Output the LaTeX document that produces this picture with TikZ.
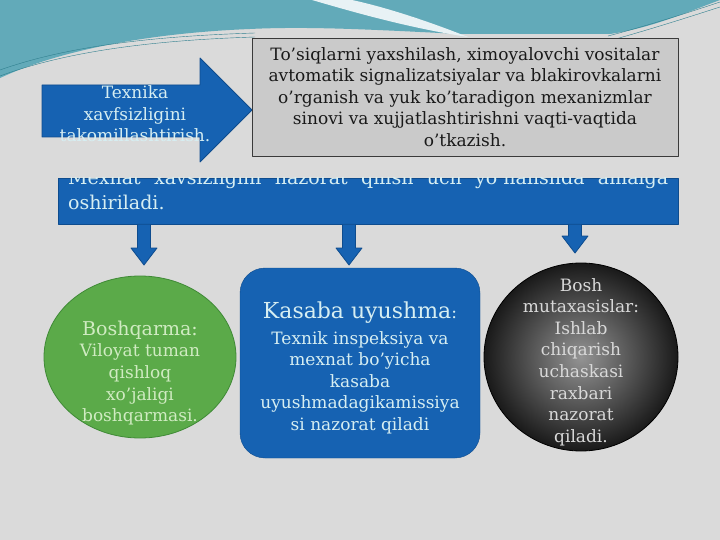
\documentclass[tikz,border=0pt]{standalone}
\usepackage{fontspec}
\setmainfont{DejaVu Serif}
\usetikzlibrary{positioning,calc,shapes.geometric}

\definecolor{bggray}{HTML}{DADADA}
\definecolor{topteal}{HTML}{62AAB9}
\definecolor{tealline}{HTML}{2F7F8E}
\definecolor{slideblue}{HTML}{1662B2}
\definecolor{blueedge}{HTML}{0E4C8E}
\definecolor{boxgray}{HTML}{CACACA}
\definecolor{boxedge}{HTML}{3A3A3A}
\definecolor{leafgreen}{HTML}{5BAA49}
\definecolor{leafedge}{HTML}{3F8A36}
\definecolor{greentext}{HTML}{D0EBC2}
\definecolor{palecyan}{HTML}{D6EEF2}

\tikzset{
  body/.style={font=\fontsize{17}{21.6}\selectfont},
  infobox/.style={body, draw=boxedge, fill=boxgray, minimum width=426pt, minimum height=118pt,
    align=center, text=black!90},
  barbox/.style={draw=blueedge, fill=slideblue, minimum width=620pt, minimum height=46pt, inner sep=0pt},
  bartext/.style={font=\fontsize{19}{25}\selectfont, text=palecyan, text width=600pt, align=justify, inner sep=0pt},
  blockarrow/.style={fill=slideblue, draw=blueedge, line width=0.8pt, to path={
    let \p1=(\tikztostart), \p2=(\tikztotarget) in
    (\x1-6.5pt,\y1) -- (\x2-6.5pt,\y2+17pt) -- (\x2-13pt,\y2+17pt) -- (\x2,\y2)
    -- (\x2+13pt,\y2+17pt) -- (\x2+6.5pt,\y2+17pt) -- (\x1+6.5pt,\y1) -- cycle}},
  blob/.style={ellipse, inner sep=0pt, line width=0.8pt},
}

\begin{document}
\begin{tikzpicture}[x=1pt, y=-1pt, line join=round]
  \useasboundingbox (0,0) rectangle (720,540);
  % background
  \fill[bggray] (0,0) rectangle (720,540);
  % top wave
  \fill[topteal] (0,0) -- (720,0) .. controls (680,15) and (650,28) .. (610,34)
    -- (460,34) .. controls (380,30) and (310,26) .. (250,29)
    .. controls (150,33) and (60,50) .. (0,78) -- cycle;
  \fill[white!85!topteal] (312,0) .. controls (360,14) and (410,28) .. (468,37)
    .. controls (420,18) and (380,6) .. (352,0) -- cycle;
  \draw[tealline, thin] (0,70) .. controls (70,45) and (160,36) .. (255,33);
  \draw[tealline, thin] (0,76) .. controls (70,50) and (160,40) .. (255,37);
  \draw[tealline, thin] (608,36) .. controls (650,25) and (690,12) .. (720,2);
  \draw[tealline, thin] (612,40) .. controls (655,28) and (692,16) .. (720,7);

  % arrow to the top box
  \draw[fill=slideblue, draw=blueedge, line width=0.8pt]
    (42,85) -- (200,85) -- (200,58) -- (252,110) -- (200,162) -- (200,137) -- (42,137) -- cycle;
  \node[body, text=palecyan, align=center] (tech) at (135,114)
    {Texnika\\xavfsizligini\\takomillashtirish.};
  \node[infobox] (info) at (465,97)
    {To’siqlarni yaxshilash, ximoyalovchi vositalar\\avtomatik signalizatsiyalar va blakirovkalarni\\o’rganish va yuk ko’taradigon mexanizmlar\\sinovi va xujjatlashtirishni vaqti-vaqtida\\o’tkazish.};

  % main bar
  \node[barbox] (bar) at (368,201) {};
  \begin{scope}
    \clip (bar.north west) rectangle (bar.south east);
    \node[bartext, anchor=base west] (barText) at (68,185)
      {Mexnat xavsizligini nazorat qilish uch yo’nalishda amalga\linebreak oshiriladi.};
  \end{scope}

  % down arrows
  \coordinate (a1) at (144,265);
  \coordinate (a2) at (349,265);
  \coordinate (a3) at (575,253);
  \foreach \a in {a1,a2,a3}
    \draw[blockarrow] (\a |- bar.south) to (\a);

  % three branches
  \node[blob, fill=leafgreen, draw=leafedge, minimum width=192pt, minimum height=162pt] (boss) at (140,357) {};
  \node[body, text=greentext, align=center] (bossText) at (140,373)
    {{\fontsize{19}{22}\selectfont Boshqarma:}\\Viloyat tuman\\qishloq\\xo’jaligi\\boshqarmasi.};

  \node[draw=blueedge, fill=slideblue, rounded corners=25pt, minimum width=240pt, minimum height=190pt] (union) at (360,363) {};
  \node[body, text=palecyan, align=center] (unionText) at (360,368)
    {{\fontsize{22}{24}\selectfont Kasaba uyushma}:\\[4pt]Texnik inspeksiya va\\mexnat bo’yicha\\kasaba\\uyushmadagikamissiya\\si nazorat qiladi};

  \node[blob, draw=black, inner color=black!42, outer color=black!90, minimum width=194pt, minimum height=188pt] (chief) at (581,357) {};
  \node[body, text=black!15, align=center] (chiefText) at (581,362)
    {Bosh\\mutaxasislar:\\Ishlab\\chiqarish\\uchaskasi\\raxbari\\nazorat\\qiladi.};
\end{tikzpicture}
\end{document}
